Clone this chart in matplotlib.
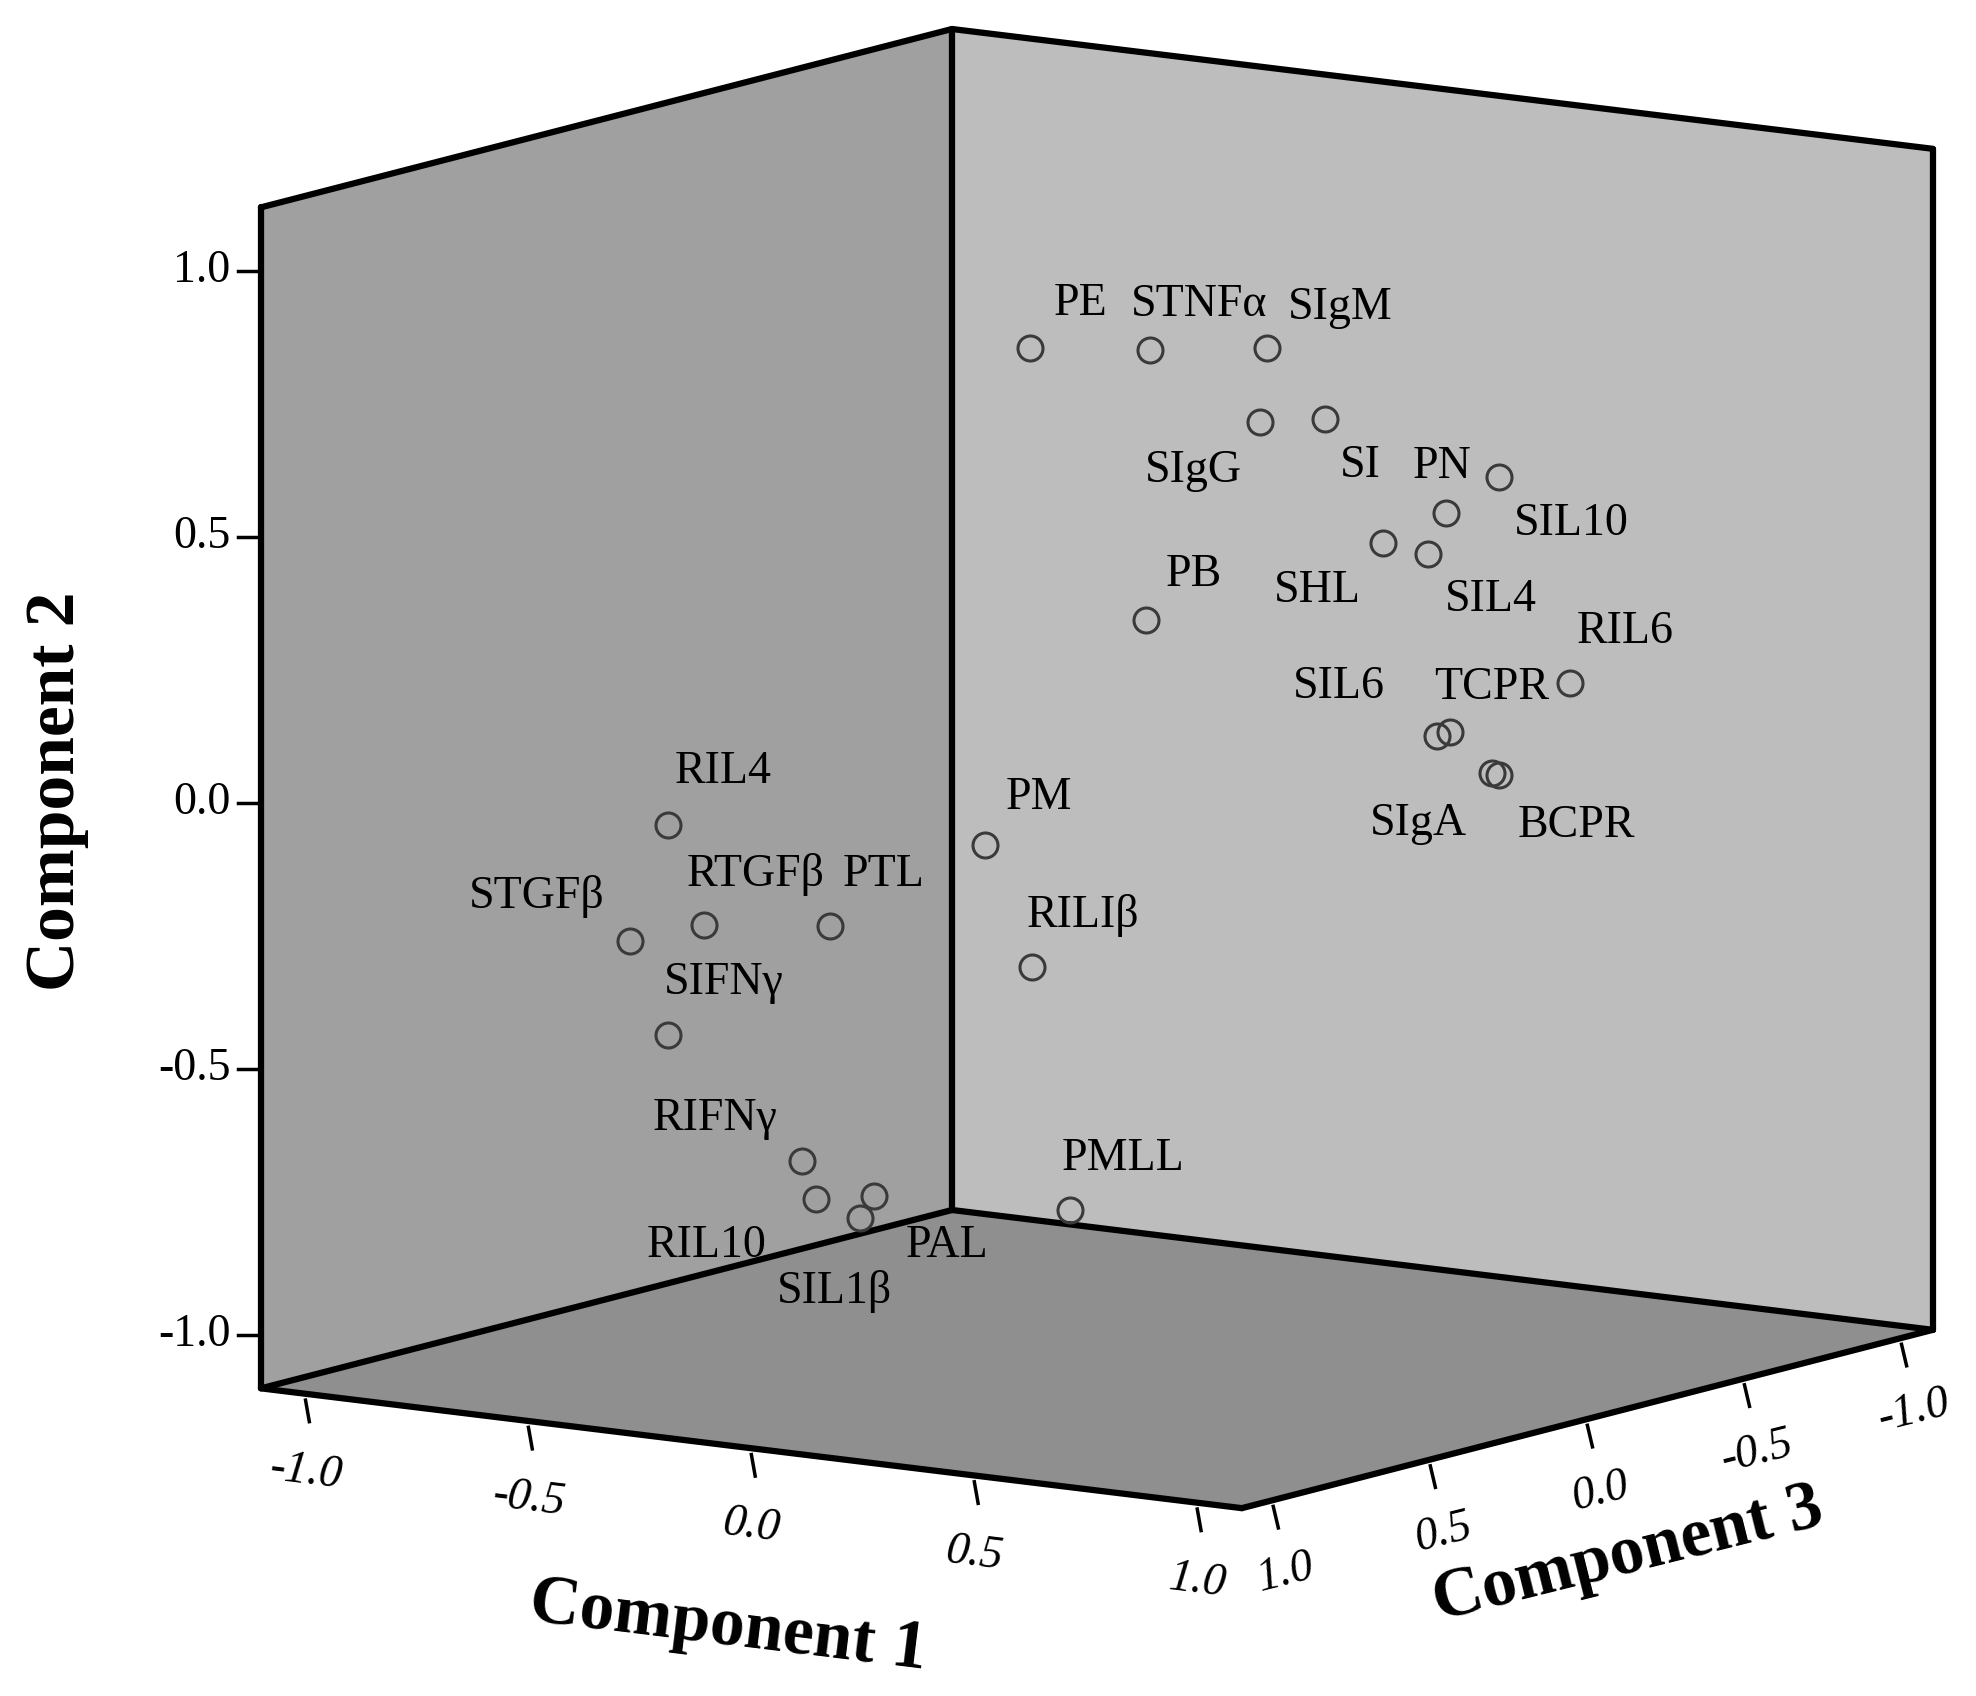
import matplotlib
matplotlib.use("Agg")
import matplotlib.pyplot as plt
from matplotlib.patches import Polygon

names = ["PE","STNFα","SIgM","SIgG","SI","PN","SIL10","SHL","SIL4","PB","RIL6","TCPR","SIL6","SIgA","BCPR",
         "PM","RILIβ","PMLL","RIL4","STGFβ","RTGFβ","PTL","SIFNγ","RIFNγ","RIL10","SIL1β","PAL"]
comp1 = [-0.15,0.12,0.10,0.085,0.23,0.50,0.62,0.36,0.46,0.11,0.78,0.51,0.48,0.605,0.62,
         -0.25,-0.145,-0.06,-0.82,-0.906,-0.74,-0.457,-0.82,-0.52,-0.49,-0.39,-0.36]
comp2 = [0.785,0.81,0.75,0.61,0.63,0.48,0.56,0.41,0.40,0.30,0.19,0.07,0.06,0.003,0.0,
         -0.16,-0.377,-0.825,-0.15,-0.377,-0.33,-0.302,-0.544,-0.75,-0.818,-0.845,-0.80]
comp3 = [0.0,0.0,-0.4,-0.4,-0.4,-0.4,-0.4,-0.4,-0.4,0.0,-0.4,-0.4,-0.4,-0.4,-0.4,
         0.0,0.0,0.0,0.2,0.2,0.2,0.2,0.2,0.2,0.2,0.2,0.2]
# label offsets (screen units)
offs = [(40,-35),(38,-35),(58,-32),(-53,39),(28,37),(-3,-37),(57,37),(-52,38),(50,36),(38,-36),(43,-40),
        (33,-35),(-77,-39),(-58,40),(61,40),(42,-38),(40,-40),(42,-40),(43,-42),(-74,-35),(41,-40),
        (42,-40),(44,-41),(-69,-33),(-86,37),(-20,58),(58,39)]
ticks = [-1.0,-0.5,0.0,0.5,1.0]
tick_labels = ["-1.0","-0.5","0.0","0.5","1.0"]

def P(c1, c2, c3):
    return (866 + 352*c1 - 248*c3, 611 + 43*c1 + 64*c3 - 420*c2)

fig = plt.figure(figsize=(19.76, 16.96), dpi=100)
ax = fig.add_axes([0, 0, 1, 1])
ax.set_xlim(0, 1560); ax.set_ylim(1339, 0); ax.axis("off")
serif = "Liberation Serif"
L, H, B, T = -1.1, 1.1, -1.1, 1.12

left = [P(L,B,H),P(L,T,H),P(L,T,L),P(L,B,L)]
back = [P(L,B,L),P(L,T,L),P(H,T,L),P(H,B,L)]
floor = [P(L,B,H),P(L,B,L),P(H,B,L),P(H,B,H)]
for poly, col in [(left,"#a0a0a0"),(back,"#bdbdbd"),(floor,"#8f8f8f")]:
    ax.add_patch(Polygon(poly, closed=True, fc=col, ec="none", zorder=1))
edges = [(P(L,B,H),P(L,T,H)),(P(L,T,H),P(L,T,L)),(P(L,T,L),P(H,T,L)),(P(H,T,L),P(H,B,L)),
         (P(L,B,L),P(L,T,L)),(P(L,B,L),P(H,B,L)),(P(L,B,L),P(L,B,H)),
         (P(L,B,H),P(H,B,H)),(P(H,B,H),P(H,B,L))]
for a, b in edges:
    ax.plot([a[0],b[0]],[a[1],b[1]], color="black", lw=4.5, zorder=2, solid_capstyle="round")

for t, lab in zip(ticks, tick_labels):
    x, y = P(L, t, H)
    ax.plot([x-18, x], [y, y], color="black", lw=2.5, zorder=2)
    ax.text(x-24, y, lab, ha="right", va="center", fontsize=33, family=serif)
for t, lab in zip(ticks, tick_labels):
    x, y = P(t, B, H)
    ax.plot([x, x+3], [y+5, y+22], color="black", lw=2.5, zorder=2)
    ax.text(x, y+62, lab, ha="center", va="center", fontsize=33, family=serif, rotation=-7, style="italic")
for t, lab in zip(ticks, tick_labels):
    x, y = P(H, B, t)
    ax.plot([x, x+4], [y+5, y+22], color="black", lw=2.5, zorder=2)
    ax.text(x+10, y+58, lab, ha="center", va="center", fontsize=33, family=serif, rotation=14, style="italic")

ax.text(45, 625, "Component 2", rotation=90, ha="center", va="center", fontsize=50, family=serif, weight="bold")
ax.text(575, 1285, "Component 1", rotation=-7, ha="center", va="center", fontsize=50, family=serif, weight="bold")
ax.text(1285, 1228, "Component 3", rotation=14, ha="center", va="center", fontsize=50, family=serif, weight="bold")

for n, a, b, c, (dx, dy) in zip(names, comp1, comp2, comp3, offs):
    x, y = P(a, b, c)
    ax.plot(x, y, "o", ms=18, mfc="none", mec="#3a3a3a", mew=2.2, zorder=3)
    ax.text(x+dx, y+dy, n, ha="center", va="center", fontsize=33, family=serif, zorder=4)

fig.savefig("out.png", dpi=100)
